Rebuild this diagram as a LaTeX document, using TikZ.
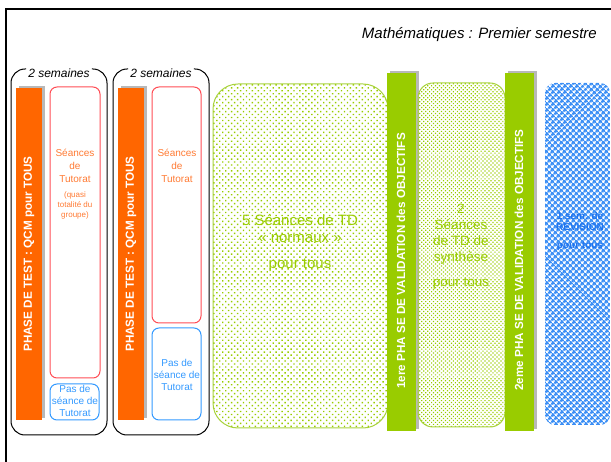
\documentclass[tikz,border=0pt]{standalone}
\usepackage{fontspec}
\setmainfont{Liberation Sans}
\usetikzlibrary{patterns.meta}
\definecolor{orgbar}{HTML}{FF6600}
\definecolor{orgtxt}{HTML}{FF7A33}
\definecolor{redline}{HTML}{FF4D55}
\definecolor{bluetut}{HTML}{3399FF}
\definecolor{grnbar}{HTML}{99CC00}
\definecolor{grnline}{HTML}{A8D23C}
\definecolor{revblue}{HTML}{3C8FF5}
\definecolor{revtxt}{HTML}{1F74EE}
\definecolor{shadowgray}{HTML}{B8B8B8}

\begin{document}
\begin{tikzpicture}[x=1pt, y=-1pt, every node/.style={inner sep=0pt, align=center},
    semtxt/.style={font=\itshape\fontsize{12}{14}\selectfont, inner xsep=2pt},
    bartxt/.style={rotate=90, text=white, font=\bfseries\fontsize{11.7}{13}\selectfont},
    tuttxt/.style={text=orgtxt, font=\fontsize{10}{13}\selectfont},
    pastxt/.style={text=bluetut, font=\fontsize{10}{12}\selectfont},
    grntxt/.style={text=grnbar}]
    \useasboundingbox (0,0) rectangle (611,462);
    % frame
    \draw[line width=2.4pt] (6,462) -- (6,9);
    \draw[line width=2pt] (5,9) -- (611,9);
    \node[font=\itshape\fontsize{15}{17}\selectfont, anchor=east] (titre) at (597,35) {Mathématiques : Premier semestre};

    % first two weeks
    \coordinate (haut) at (0,69);
    \node[semtxt] (sem1) at (59,73) {2 semaines};
    \draw[line width=1pt, rounded corners=14pt] (sem1.west |- haut) -- (11,69) -- (11,435) -- (107,435) -- (107,69) -- (sem1.east |- haut);
    \fill[shadowgray] (19,86) rectangle (45,418);
    \fill[orgbar] (16,88) rectangle (42,420);
    \node[bartxt] (test1) at (29,254) {PHASE DE TEST : QCM pour TOUS};
    \draw[redline, line width=1pt, rounded corners=7pt] (50,87) rectangle (100,378);
    \node[tuttxt] (tut1) at (75,166) {Séances\\de\\Tutorat};
    \node[text=orgtxt, font=\fontsize{8}{10}\selectfont] (quasi) at (75,205) {(quasi\\totalité du\\groupe)};
    \draw[bluetut, line width=1pt, rounded corners=7pt] (50,384) rectangle (99,420);
    \node[pastxt] (pas1) at (75,401) {Pas de\\séance de\\Tutorat};

    % second two weeks
    \node[semtxt] (sem2) at (161,73) {2 semaines};
    \draw[line width=1pt, rounded corners=14pt] (sem2.west |- haut) -- (113,69) -- (113,435) -- (209,435) -- (209,69) -- (sem2.east |- haut);
    \fill[shadowgray] (121,86) rectangle (147,418);
    \fill[orgbar] (118,88) rectangle (144,420);
    \node[bartxt] (test2) at (131,254) {PHASE DE TEST : QCM pour TOUS};
    \draw[redline, line width=1pt, rounded corners=7pt] (152,87) rectangle (201,323);
    \node[tuttxt] (tut2) at (177,166) {Séances\\de\\Tutorat};
    \draw[bluetut, line width=1pt, rounded corners=7pt] (152,328) rectangle (201,420);
    \node[pastxt] (pas2) at (177,375) {Pas de\\séance de\\Tutorat};

    % TD
    \draw[grnline, line width=1pt, rounded corners=25pt, pattern={Dots[radius=1pt, distance=4.2pt, angle=45]}, pattern color=grnbar] (213,84) rectangle (388,428);
    \node[grntxt, font=\fontsize{15}{17}\selectfont] (td) at (300,228.5) {5 Séances de TD\\« normaux »};
    \node[grntxt, font=\fontsize{15}{17}\selectfont] (tous1) at (300,265) {pour tous};

    \fill[shadowgray] (390,71) rectangle (419,429);
    \fill[grnbar] (387,73) rectangle (416,431);
    \node[bartxt] (valid1) at (401,261) {1ere PHA SE DE VALIDATION des OBJECTIFS};

    \draw[grnline, line width=1pt, rounded corners=15pt, pattern={Dots[radius=0.85pt, distance=2.8pt, angle=45]}, pattern color=grnbar] (418,83) rectangle (505,427);
    \node[grntxt, font=\fontsize{13.5}{16}\selectfont] (synth) at (461,234) {2\\Séances\\de TD de\\synthèse};
    \node[grntxt, font=\fontsize{13.5}{16}\selectfont] (tous2) at (461,284) {pour tous};

    \fill[shadowgray] (508,71) rectangle (537,429);
    \fill[grnbar] (505,73) rectangle (534,431);
    \node[bartxt] (valid2) at (519,260) {2eme PHA SE DE VALIDATION des OBJECTIFS};

    % revision
    \fill[rounded corners=10pt, pattern={Hatch[angle=45, distance=4pt, line width=1.8pt]}, pattern color=revblue] (545,83) rectangle (610,425);
    \node[text=revtxt, font=\bfseries\fontsize{10}{11}\selectfont] (revis) at (580,221.5) {1 sem. de\\RÉVISION};
    \node[text=revtxt, font=\bfseries\fontsize{10}{11}\selectfont] (tous3) at (580,246) {pour tous};
\end{tikzpicture}
\end{document}
